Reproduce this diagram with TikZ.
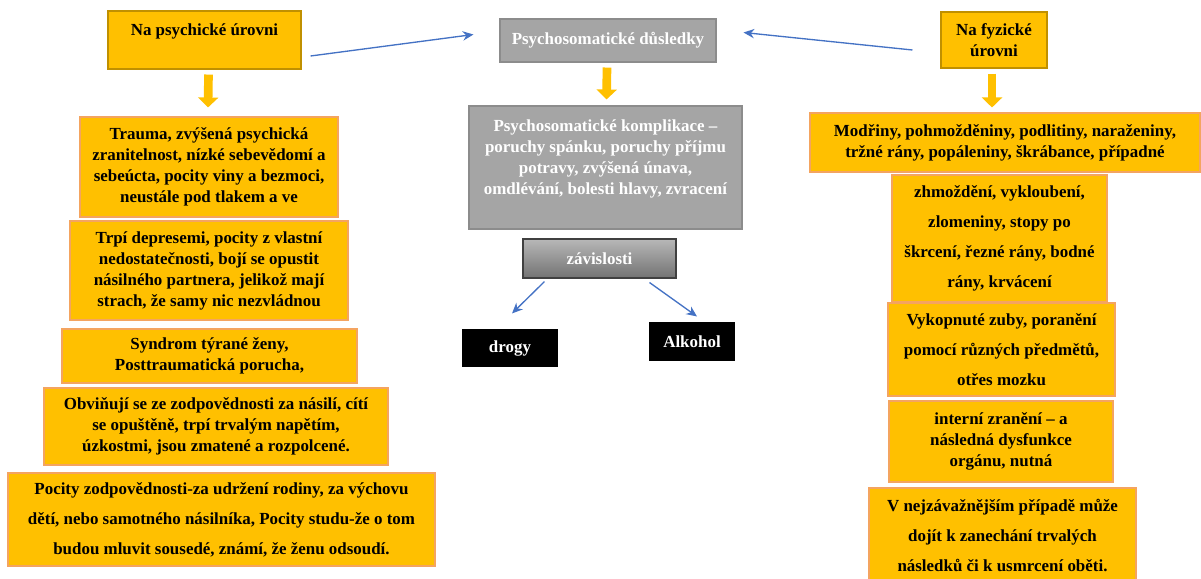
\documentclass[tikz,border=0pt]{standalone}
\usepackage{fontspec}
\setmainfont{Liberation Serif}
\usetikzlibrary{arrows.meta}

\definecolor{gold}{HTML}{FFC000}
\definecolor{golddark}{HTML}{C09000}
\definecolor{boxline}{HTML}{F4A460}
\definecolor{greyfill}{HTML}{A5A5A5}
\definecolor{greyline}{HTML}{8C8C8C}
\definecolor{arrowblue}{HTML}{4472C4}

\tikzset{
  ybox/.style={draw=boxline, fill=gold, line width=0.8pt, inner sep=0pt, align=center,
    font=\bfseries\fontsize{12.7}{15.75}\selectfont},
  ywide/.style={ybox, font=\bfseries\fontsize{12.7}{22.5}\selectfont},
  headbox/.style={ybox, draw=golddark},
  greybox/.style={ybox, draw=greyline, fill=greyfill, text=white},
  blackbox/.style={ybox, draw=black, fill=black, text=white},
  sz/.style 2 args={minimum width=#1*0.75pt, minimum height=#2*0.75pt},
  yarrow/.style={draw=gold, line width=6.5pt, -{Triangle[width=15pt,length=7.5pt]}},
  barrow/.style={draw=arrowblue, line width=1pt, -{Stealth[length=8pt,width=7pt]}}
}

\begin{document}
\begin{tikzpicture}[x=0.75pt,y=-0.75pt]
  \useasboundingbox (0,0) rectangle (1201,578);
  % psychicka uroven
  \node[headbox, sz={193}{58}] (psych) at (204.5,40) {Na psychické úrovni\\ \mbox{}};
  \node[ybox, sz={258}{100}] (trauma) at (209,167) {Trauma, zvýšená psychická\\zranitelnost, nízké sebevědomí a\\sebeúcta, pocity viny a bezmoci,\\neustále pod tlakem a ve};
  \node[ybox, sz={278}{99}] (deprese) at (209,270.5) {Trpí depresemi, pocity z vlastní\\nedostatečnosti, bojí se opustit\\násilného partnera, jelikož mají\\strach, že samy nic nezvládnou};
  \node[ybox, sz={295}{54}] (syndrom) at (209.5,356) {Syndrom týrané ženy,\\Posttraumatická porucha,};
  \node[ybox, sz={344}{77}] (obvinuji) at (216,426.5) {Obviňují se ze zodpovědnosti za násilí, cítí\\se opuštěně, trpí trvalým napětím,\\úzkostmi, jsou zmatené a rozpolcené.};
  \node[ywide, sz={427}{93}] (pocity) at (221.5,519.5) {Pocity zodpovědnosti-za udržení rodiny, za výchovu\\dětí, nebo samotného násilníka, Pocity studu-že o tom\\budou mluvit sousedé, známí, že ženu odsoudí.};

  % psychosomaticke dusledky
  \node[greybox, sz={216}{43}] (dusledky) at (608,40.5) {Psychosomatické důsledky};
  \node[greybox, sz={273}{123}] (komplikace) at (605.5,167.5) {Psychosomatické komplikace --\\poruchy spánku, poruchy příjmu\\potravy, zvýšená únava,\\omdlévání, bolesti hlavy, zvracení\\ \mbox{}};
  \node[ybox, draw=black!75, top color=black!28, bottom color=black!55, text=white, sz={153}{39}] (zavislosti) at (599.5,258.5) {závislosti};
  \node[blackbox, sz={94}{36}] (drogy) at (510,348) {drogy};
  \node[blackbox, sz={84}{37}] (alkohol) at (692,341.5) {Alkohol};

  % fyzicka uroven
  \node[headbox, sz={106}{56}] (fyz) at (994,40) {Na fyzické\\úrovni};
  \node[ybox, sz={390}{59}] (modriny) at (1005,142.5) {Modřiny, pohmožděniny, podlitiny, naraženiny,\\tržné rány, popáleniny, škrábance, případné};
  \node[ywide, sz={215}{127}] (zhmozdeni) at (999.5,238.5) {zhmoždění, vykloubení,\\zlomeniny, stopy po\\škrcení, řezné rány, bodné\\rány, krvácení};
  \node[ywide, sz={227}{93}] (zuby) at (1001.5,349.5) {Vykopnuté zuby, poranění\\pomocí různých předmětů,\\otřes mozku};
  \node[ybox, sz={224}{81}] (interni) at (1001,441.5) {interní zranění -- a\\následná dysfunkce\\orgánu, nutná};
  \node[ywide, sz={267}{94}] (umrti) at (1002.5,535) {V nejzávažnějším případě může\\dojít k zanechání trvalých\\následků či k usmrcení oběti.};

  % sipky
  \draw[yarrow] ([shift={(4,5)}]psych.south) -- ([shift={(-1,-9)}]trauma.north);
  \draw[yarrow] ([shift={(-1,5)}]dusledky.south) -- ([shift={(1,-6)}]komplikace.north);
  \draw[yarrow] ([shift={(-2,5)}]fyz.south) -- ([shift={(-13,-5)}]modriny.north);
  \draw[barrow] ([shift={(9,16)}]psych.east) -- ([shift={(-26,-6)}]dusledky.west);
  \draw[barrow] ([shift={(-28,10)}]fyz.west) -- ([shift={(27,-8)}]dusledky.east);
  \draw[barrow] ([shift={(-55,3)}]zavislosti.south) -- ([shift={(2,-16)}]drogy.north);
  \draw[barrow] ([shift={(50,4)}]zavislosti.south) -- ([shift={(5,-6)}]alkohol.north);
\end{tikzpicture}
\end{document}
